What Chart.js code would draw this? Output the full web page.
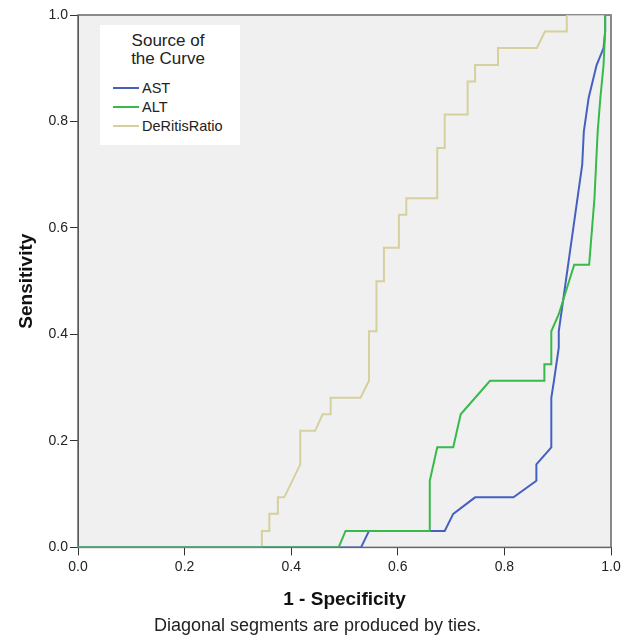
<!DOCTYPE html>
<html>
<head>
<meta charset="utf-8">
<title>ROC Curve</title>
<script src="https://cdn.jsdelivr.net/npm/chart.js@4.4.1/dist/chart.umd.min.js"></script>
<style>
  html, body { margin: 0; padding: 0; background: #fff; }
  #wrap { position: relative; width: 635px; height: 640px; }
  #legendBox {
    position: absolute; left: 100px; top: 25px; width: 140px; height: 120px;
    background: #fff; font-family: 'Liberation Sans', Arial, sans-serif; color: #222;
  }
  #legendBox .title { position: absolute; left: 0; top: 7px; width: 136px; text-align: center; font-size: 17px; line-height: 18px; }
  #legendBox .item { position: absolute; left: 13px; height: 19px; line-height: 19px; font-size: 14.5px; white-space: nowrap; }
  #legendBox .swatch { display: inline-block; width: 26px; height: 2px; vertical-align: middle; margin-right: 3px; position: relative; top: -1px; }
</style>
</head>
<body>
<div id="wrap">
  <canvas id="rocChart" width="635" height="640"></canvas>
  <div id="legendBox"></div>
</div>
<script>
// ROC curve coordinates (1 - specificity, sensitivity)
const seriesNames = ['AST', 'ALT', 'DeRitisRatio'];
const seriesColors = ['#4660C0', '#38B94A', '#D6CF9E'];

const astX = [0, 0.531, 0.546, 0.688, 0.704, 0.745, 0.817, 0.860, 0.860, 0.888, 0.888, 0.893, 0.902, 0.902, 0.946, 0.949, 0.958, 0.973, 0.986, 0.989, 0.989, 1];
const astY = [0, 0, 0.031, 0.031, 0.063, 0.094, 0.094, 0.125, 0.156, 0.188, 0.281, 0.313, 0.375, 0.406, 0.719, 0.781, 0.844, 0.906, 0.938, 0.969, 1, 1];

const altX = [0, 0.489, 0.502, 0.660, 0.660, 0.674, 0.704, 0.718, 0.773, 0.875, 0.875, 0.888, 0.888, 0.902, 0.931, 0.959, 0.969, 0.972, 0.975, 0.980, 0.986, 0.989, 0.989, 1];
const altY = [0, 0, 0.031, 0.031, 0.125, 0.188, 0.188, 0.250, 0.313, 0.313, 0.344, 0.344, 0.406, 0.438, 0.531, 0.531, 0.656, 0.719, 0.781, 0.844, 0.906, 0.969, 1, 1];

const ratioX = [0, 0.345, 0.345, 0.359, 0.359, 0.375, 0.375, 0.387, 0.417, 0.417, 0.445, 0.459, 0.474, 0.474, 0.530, 0.546, 0.546, 0.560, 0.560, 0.574, 0.574, 0.602, 0.602, 0.616, 0.616, 0.674, 0.674, 0.688, 0.688, 0.731, 0.731, 0.745, 0.745, 0.788, 0.788, 0.861, 0.876, 0.917, 0.917, 1];
const ratioY = [0, 0, 0.031, 0.031, 0.063, 0.063, 0.094, 0.094, 0.156, 0.219, 0.219, 0.250, 0.250, 0.281, 0.281, 0.313, 0.406, 0.406, 0.500, 0.500, 0.563, 0.563, 0.625, 0.625, 0.656, 0.656, 0.750, 0.750, 0.813, 0.813, 0.875, 0.875, 0.906, 0.906, 0.938, 0.938, 0.969, 0.969, 1, 1];

const tickValues = [0, 0.2, 0.4, 0.6, 0.8, 1.0];
const footnote = 'Diagonal segments are produced by ties.';

function toPoints(xs, ys) {
    return xs.map((x, i) => ({ x: x, y: ys[i] }));
}

Chart.defaults.font.family = "'Liberation Sans', Arial, sans-serif";
Chart.defaults.color = '#222';

// gray plot background and frame round the chart area
const plotFrame = {
    id: 'plotFrame',
    beforeDraw(chart) {
        const { ctx, chartArea: a } = chart;
        ctx.save();
        ctx.fillStyle = '#f0f0f0';
        ctx.fillRect(a.left, a.top, a.right - a.left, a.bottom - a.top);
        ctx.restore();
    },
    beforeDatasetsDraw(chart) {
        const { ctx, chartArea: a } = chart;
        ctx.save();
        ctx.strokeStyle = '#666';
        ctx.lineWidth = 1.5;
        ctx.strokeRect(a.left, a.top, a.right - a.left, a.bottom - a.top);
        ctx.restore();
    }
};

const fixedTicks = scale => { scale.ticks = tickValues.map(v => ({ value: v })); };

const ctx = document.getElementById('rocChart').getContext('2d');
const rocChart = new Chart(ctx, {
    type: 'line',
    data: {
        datasets: [
            { label: seriesNames[0], data: toPoints(astX, astY), borderColor: seriesColors[0], order: 1 },
            { label: seriesNames[1], data: toPoints(altX, altY), borderColor: seriesColors[1], order: 0 },
            { label: seriesNames[2], data: toPoints(ratioX, ratioY), borderColor: seriesColors[2], order: 2 }
        ]
    },
    options: {
        responsive: false,
        animation: false,
        elements: {
            line: { borderWidth: 2, tension: 0, fill: false },
            point: { radius: 0, hoverRadius: 0 }
        },
        layout: { padding: { top: 15, right: 0, left: 0, bottom: 0 } },
        plugins: {
            legend: { display: false },
            tooltip: { enabled: false },
            title: {
                display: true,
                position: 'bottom',
                text: footnote,
                color: '#222',
                font: { size: 18, weight: 'normal' },
                padding: { top: 3, bottom: 3 }
            }
        },
        scales: {
            x: {
                type: 'linear',
                min: 0,
                max: 1,
                afterBuildTicks: fixedTicks,
                afterFit: scale => { scale.height = 65; },
                grid: { drawOnChartArea: false, drawTicks: true, tickLength: 8, color: '#333' },
                border: { color: '#333', width: 1 },
                ticks: { font: { size: 14 }, color: '#222', padding: 3, maxRotation: 0, callback: v => v.toFixed(1) },
                title: {
                    display: true,
                    text: '1 - Specificity',
                    color: '#111',
                    font: { size: 19, weight: 'bold' },
                    padding: { top: 0, bottom: 1 }
                }
            },
            y: {
                type: 'linear',
                min: 0,
                max: 1,
                afterBuildTicks: fixedTicks,
                afterFit: scale => { scale.width = 78; },
                grid: { drawOnChartArea: false, drawTicks: true, tickLength: 8, color: '#333' },
                border: { color: '#333', width: 1 },
                ticks: { font: { size: 14 }, color: '#222', padding: 2, callback: v => v.toFixed(1) },
                title: {
                    display: true,
                    text: 'Sensitivity',
                    color: '#111',
                    font: { size: 19, weight: 'bold' },
                    padding: { top: 15, bottom: 0 }
                }
            },
            // empty right-hand margin so the footnote centres on the whole page
            yRight: {
                type: 'linear',
                position: 'right',
                min: 0,
                max: 1,
                afterFit: scale => { scale.width = 24; },
                grid: { display: false },
                border: { display: false },
                ticks: { display: false }
            }
        }
    },
    plugins: [plotFrame]
});

// legend box inside the plot, built from the chart's datasets
const legendBox = document.getElementById('legendBox');
legendBox.innerHTML = '<div class="title">Source of<br>the Curve</div>';
rocChart.data.datasets.forEach((ds, i) => {
    const item = document.createElement('div');
    item.className = 'item';
    item.style.top = (54 + i * 19) + 'px';
    item.innerHTML = '<span class="swatch" style="background:' + ds.borderColor + '"></span>' + ds.label;
    legendBox.appendChild(item);
});
</script>
</body>
</html>
